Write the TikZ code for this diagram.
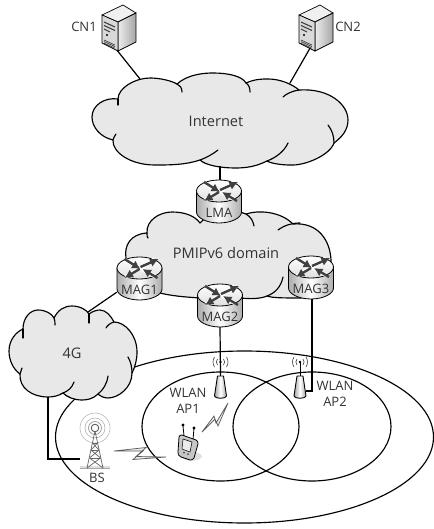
\documentclass[tikz,border=0pt]{standalone}
\usepackage{fontspec}
\setmainfont{Open Sans}
\usetikzlibrary{arrows.meta}
\definecolor{cloudfill}{gray}{0.91}
\definecolor{arrowgray}{gray}{0.25}
\tikzset{
  cloudline/.style={draw=black,line width=1.15pt,fill=cloudfill,line join=round},
  hookline/.style={draw=black,line width=1.15pt,line cap=round},
  link/.style={draw=black,line width=1.2pt},
  circleline/.style={draw=black,line width=1.15pt},
  labeltext/.style={font=\fontsize{13}{16}\selectfont,text=black!80,inner sep=0pt,align=center},
  bigtext/.style={font=\fontsize{14.6}{16}\selectfont,text=black!80,inner sep=0pt,align=center},
  wlantext/.style={font=\fontsize{13}{16}\selectfont,text=black!80,inner sep=0pt,align=center},
  routerarrow/.style={draw=arrowgray,line width=2.4pt,-{Latex[length=8.5pt,width=9pt]}},
  routerline/.style={draw=white,line width=3.8pt},
  thinbolt/.style={draw=black!65,fill=gray!15,line width=.7pt,line join=miter},
  towerline/.style={draw=black!60,line width=.7pt},
  wave/.style={draw=black!75,line width=.6pt}
}
\newcommand{\routerpic}[4]{% name, cx, top, label
  \begin{scope}[shift={(#2,#3)}]
    \shade[left color=gray!65,right color=gray!65,middle color=white] (-22.5,11) -- (-22.5,32) .. controls (-22.5,38) and (-12,43) .. (0,43) .. controls (12,43) and (22.5,38) .. (22.5,32) -- (22.5,11) -- cycle;
    \draw[black,line width=.8pt] (-22.5,11) -- (-22.5,32) .. controls (-22.5,38) and (-12,43) .. (0,43) .. controls (12,43) and (22.5,38) .. (22.5,32) -- (22.5,11);
    \draw[black,line width=.8pt,top color=white,bottom color=gray!25] (0,11) ellipse [x radius=22.5pt,y radius=11pt];
    \draw[routerline] (-14,3) -- (15,19);
    \draw[routerline] (-14,20) -- (15,2);
    \draw[routerarrow] (-15,2) -- (1,12);
    \draw[routerarrow] (1,10) -- (19,2);
    \draw[routerarrow] (0,12) -- (-15,21);
    \draw[routerarrow] (18,21) -- (3,12);
    \node[labeltext] at (0,33) {#4};
  \end{scope}
  \node[inner sep=0pt,minimum width=45pt,minimum height=43pt] (#1) at (#2,#3+21.5) {};
}
\newcommand{\serverpic}[2]{% name, dx
  \begin{scope}[shift={(#2,0)}]
    \path[fill=gray!12,draw=black,line width=.7pt,line join=round] (102,15) -- (123,5) -- (136,13) -- (118,22) -- cycle;
    \shade[left color=gray!15,right color=gray!70,draw=black,line width=.7pt] (118,22) -- (136,13) -- (136,42) -- (118,51) -- cycle;
    \path[fill=gray!30,draw=black,line width=.7pt] (102,15) -- (118,22) -- (118,51) -- (102,43) -- cycle;
    \draw[black!75,line width=1.1pt] (104,22) -- (115,27);
    \draw[black!75,line width=1.1pt] (104,25.5) -- (115,30.5);
    \draw[black!75,line width=1.1pt] (104,29) -- (110,32);
    \fill[black] (107,35) circle (1.1pt);
    \draw[black!80,line width=.6pt] (104,40) -- (115,45) (104,41.6) -- (115,46.6) (104,43.2) -- (115,48.2);
    \node[inner sep=0pt,minimum width=34pt,minimum height=46pt] (#1) at (119,28) {};
  \end{scope}
}
\newcommand{\antennapic}[2]{% name, cx
  \begin{scope}[shift={(#2,0)}]
    \draw[black,line width=.9pt] (0,362) -- (0,376);
    \fill[black] (0,362) circle (1.3pt);
    \draw[wave] (-3,359) .. controls (-4.5,361) and (-4.5,363) .. (-3,365);
    \draw[wave] (3,359) .. controls (4.5,361) and (4.5,363) .. (3,365);
    \draw[wave] (-6,357) .. controls (-8,360) and (-8,364) .. (-6,367);
    \draw[wave] (6,357) .. controls (8,360) and (8,364) .. (6,367);
    \path[left color=gray!70,right color=gray!70,middle color=white,draw=black,line width=.9pt,line join=round] (-3,376) -- (3,376) -- (6,396) .. controls (6,399) and (-6,399) .. (-6,396) -- cycle;
    \node[inner sep=0pt,minimum width=12pt,minimum height=24pt] (#1) at (0,387) {};
  \end{scope}
}
\begin{document}
\begin{tikzpicture}[x=1pt,y=-1pt]
\useasboundingbox (0,0) rectangle (433,529);
\fill[white] (0,0) rectangle (433,529);

% connector ends on clouds
\coordinate (inetA) at (140,79);
\coordinate (inetB) at (290,83);
\coordinate (inetC) at (220,166);
\coordinate (fourA) at (88,312);
\coordinate (fourB) at (48,397);
\coordinate (corner) at (48,459);
\coordinate (cornerB) at (312,391);

% coverage ellipses
\draw[circleline] (244.5,437) ellipse [x radius=189pt,y radius=86pt];
\draw[circleline] (220.5,426.5) ellipse [x radius=78.5pt,y radius=54.5pt];
\draw[circleline] (312,426.5) ellipse [x radius=79pt,y radius=54.5pt];

% servers
\serverpic{cnone}{0}
\serverpic{cntwo}{197}
\node[labeltext] (cnonelabel) at (84,27) {CN1};
\node[labeltext] (cntwolabel) at (348,27) {CN2};

% Internet cloud
\path[cloudline] (118,99) .. controls (118,88) and (135,78) .. (150,78)
  .. controls (158,78) and (170,80) .. (177,84)
  .. controls (188,74) and (205,73) .. (213,73)
  .. controls (228,73) and (242,76) .. (246,83)
  .. controls (255,79) and (262,79) .. (268,79)
  .. controls (280,79) and (292,84) .. (299,90)
  .. controls (330,88) and (348,105) .. (348,120)
  .. controls (348,130) and (342,137) .. (334,143)
  .. controls (330,155) and (305,166) .. (290,165)
  .. controls (280,165) and (270,163) .. (267,161)
  .. controls (255,167) and (245,168) .. (235,168)
  .. controls (220,168) and (205,165) .. (200,160)
  .. controls (185,165) and (170,165) .. (155,165)
  .. controls (130,165) and (112,152) .. (113,140)
  .. controls (100,137) and (92,127) .. (92,117)
  .. controls (92,105) and (105,97) .. (118,99) -- cycle;
\draw[hookline] (177,84) .. controls (180,85) and (182,88) .. (182,92);
\draw[hookline] (246,83) .. controls (249,85) and (250,88) .. (250,92);
\draw[hookline] (299,90) .. controls (292,91) and (286,94) .. (283,97);
\draw[hookline] (328,125) .. controls (332,130) and (334,136) .. (334,143);
\draw[hookline] (288,143) .. controls (284,152) and (275,158) .. (267,161);
\draw[hookline] (218,150) .. controls (213,154) and (206,158) .. (200,160);
\draw[hookline] (113,140) .. controls (113,138) and (115,136) .. (116,134);
\draw[hookline] (118,99) -- (118,105);
\node[bigtext] (inet) at (216,121) {Internet};

% PMIPv6 cloud
\path[cloudline] (126,258) .. controls (124,246) and (130,234) .. (147,233)
  .. controls (146,220) and (160,212) .. (172,212)
  .. controls (185,212) and (195,216) .. (200,223)
  -- (219,205) -- (246,214)
  .. controls (258,210) and (280,211) .. (293,224)
  .. controls (318,222) and (330,240) .. (331,260)
  .. controls (331,290) and (320,297) .. (300,298)
  .. controls (285,298) and (272,298) .. (267,296)
  .. controls (260,299) and (250,299) .. (240,298)
  -- (200,298) .. controls (185,297) and (172,296) .. (160,293)
  .. controls (140,293) and (120,280) .. (126,258) -- cycle;
\draw[hookline] (147,233) .. controls (147,236) and (147,237) .. (148,238);
\draw[hookline] (246,214) .. controls (251,217) and (253,221) .. (254,226);
\draw[hookline] (278,230) .. controls (285,225) and (292,223) .. (300,223);
\draw[hookline] (283,277) .. controls (281,287) and (275,293) .. (267,296);
\node[bigtext] (pmip) at (226,253) {PMIPv6 domain};

% Routers
\routerpic{lma}{219}{180}{LMA}
\routerpic{magone}{139.5}{257}{MAG1}
\routerpic{magtwo}{220}{284}{MAG2}
\routerpic{magthree}{311}{256}{MAG3}

% 4G cloud
\path[cloudline] (23,329) .. controls (23,318) and (30,310) .. (38,310)
  .. controls (46,310) and (52,314) .. (54,318)
  .. controls (58,310) and (64,306) .. (72,306)
  .. controls (80,306) and (87,310) .. (89,314)
  .. controls (93,311) and (97,310) .. (100,310)
  .. controls (106,310) and (111,316) .. (114,322)
  .. controls (125,322) and (137,335) .. (137,352)
  .. controls (137,360) and (135,367) .. (132,373)
  .. controls (132,388) and (118,398) .. (108,398)
  .. controls (104,398) and (100,396) .. (98,394)
  .. controls (93,399) and (87,400) .. (82,400)
  .. controls (74,400) and (67,397) .. (63,393)
  .. controls (58,396) and (53,397) .. (48,397)
  .. controls (32,397) and (19,388) .. (20,374)
  .. controls (13,369) and (9,360) .. (9,351)
  .. controls (9,340) and (16,332) .. (23,329) -- cycle;
\draw[hookline] (23,329) -- (23,338);
\draw[hookline] (54,318) .. controls (55,320) and (55,322) .. (55,325);
\draw[hookline] (89,314) .. controls (89,317) and (89,320) .. (89,323);
\draw[hookline] (114,322) .. controls (110,323) and (107,326) .. (106,328);
\draw[hookline] (128,357) .. controls (131,362) and (132,368) .. (132,373);
\draw[hookline] (108,376) .. controls (107,384) and (103,390) .. (98,394);
\draw[hookline] (74,382) .. controls (72,388) and (68,391) .. (63,393);
\draw[hookline] (20,374) .. controls (21,372) and (21,370) .. (22,368);
\node[bigtext] (fourg) at (72,353) {4G};

% Antennas
\antennapic{apone}{220.5}
\antennapic{aptwo}{300}

% Base station
\draw[gray!55,line width=.6pt] (95,428) circle (15pt);
\draw[gray!60,line width=.6pt] (95,428) circle (10pt);
\draw[gray!80,line width=.7pt] (95,428) circle (6.5pt);
\draw[black!70,line width=.8pt] (95,428) circle (3.8pt);
\fill[gray!25] (80,466) rectangle (110,468);
\draw[gray!70,line width=1.2pt] (80,468.5) -- (110,468.5);
\draw[towerline] (95,431) -- (87,468) (95,431) -- (103,468);
\draw[towerline] (92.5,443) -- (97.5,443) (91,450) -- (99,450) (89.5,458) -- (100.5,458);
\draw[towerline] (92.5,443) -- (99,450) (97.5,443) -- (91,450) (91,450) -- (100.5,458) (99,450) -- (89.5,458) (89.5,458) -- (103,468) (100.5,458) -- (87,468);
\node[inner sep=0pt,minimum width=30pt,minimum height=40pt] (bs) at (95,449) {};
\node[labeltext] (bslabel) at (97,478) {BS};

% Mobile device
\fill[gray!25] (182,458) .. controls (190,462) and (200,461) .. (202,457) .. controls (202,453) and (195,452) .. (192,452) -- cycle;
\draw[black,line width=.8pt] (183,426) -- (184,436);
\draw[black,line width=.8pt] (194,428) -- (193,440);
\fill[black] (183,425) circle (1.6pt) (194,428) circle (1.6pt);
\path[fill=gray!45,draw=black,line width=.8pt,line join=round] (179,437) .. controls (179,435) and (181,435) .. (182,435) -- (196,440) .. controls (198,441) and (198,442) .. (198,444) -- (194,458) .. controls (193,460) and (191,460) .. (190,460) -- (181,457) .. controls (178,456) and (178,454) .. (178,452) -- cycle;
\path[fill=gray!15,draw=black,line width=.5pt] (183,439) -- (192,442) -- (190,452) -- (182,449) -- cycle;
\fill[black!70] (184,452.5) circle (1pt) (188,454) circle (1pt);
\node[inner sep=0pt,minimum width=20pt,minimum height=25pt] (mobile) at (188,448) {};

% Wireless bolts
\path[thinbolt] (114,451) -- (146,447.5) -- (136,456.5) -- (166,457) -- (133,459.5) -- (143,451) -- cycle;
\path[thinbolt] (202,432) -- (214,416) -- (216,423) -- (228,403) -- (218,426) -- (215,419) -- cycle;

% Connectors
\draw[link] (cnone.south) ++(-2,-1) -- (inetA);
\draw[link] (cntwo.south) ++(-6,-3) -- (inetB);
\draw[link] (inetC) -- (inetC |- lma.north);
\draw[link] (magone.south west) ++(0,-8) -- (fourA);
\draw[link] (magtwo.south) -- (apone.north);
\draw[link] (magthree.south) ++(1,0) -- (cornerB) -- (aptwo.east |- cornerB);
\draw[link] (fourB) -- (corner) -- (bs.west |- corner);

% Labels
\node[wlantext] (wlanone) at (188,401) {WLAN\\AP1};
\node[wlantext] (wlantwo) at (335,394) {WLAN\\AP2};
\end{tikzpicture}
\end{document}
